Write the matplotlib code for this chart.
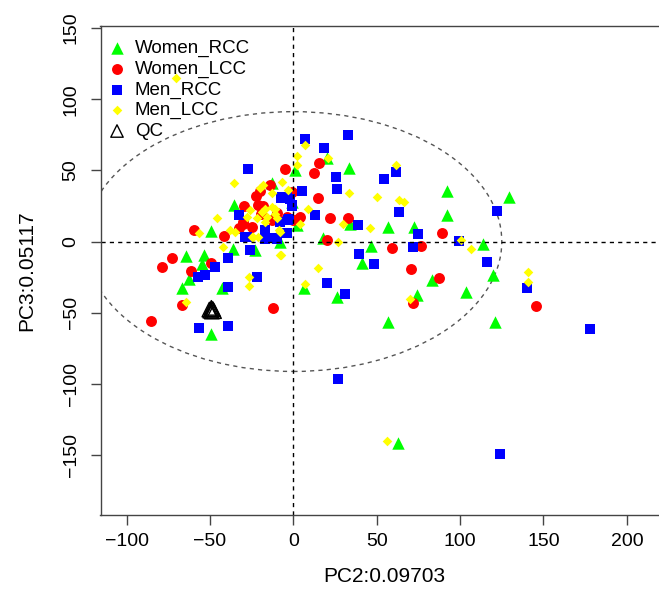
import matplotlib
matplotlib.use("Agg")
import matplotlib.pyplot as plt
from matplotlib.patches import Ellipse

plt.rcParams['font.family'] = ['Liberation Sans', 'DejaVu Sans']

# Women_RCC (green triangles)
wr_x = [1, 33.5, 92.3, 129.5, 92, 56.6, 72.5, 34, 18, 46.6, 113.5, 41, 83, 119.5, 74.3,
        103.5, 6.4, 26.3, 57, 121, 63, 20, -1, 2, -35.4, -49.4, -13, -12.4, -64.4, -53.6,
        -55, -62.8, -67, -43, -36, -23, -49.6, -8]
wr_y = [50, 51.8, 35.4, 31.4, 18.5, 10.3, 10.3, 12.2, 2.6, -3, -2, -15.4, -27.1, -23.6, -37.6,
        -35.8, -32.5, -38.8, -56.4, -56.4, -141.8, 59, 28, 11.5, 26, 7.3, 40.8, 17.8, -10, -9.6,
        -16.1, -26.4, -32.3, -32.3, -4.9, -6, -65, 0]

# Women_LCC (red circles)
wl_x = [-5, 15.5, 12.4, 15, -0.6, 4, 22, 32.6, 20, 59.3, 76.4, 89, 70.5, 87.5, 71.6, 145.3,
        -4, 0, 3, -14, -22.4, -18, -19.6, -13, -20, -21, -29.6, -30.4, -32.5, -30, -59.6,
        -41.6, -78.7, -73, -61.6, -49.6, -67, -12.4, -85.6, -10, -25]
wl_y = [50.8, 55.5, 48.5, 30.5, 34.9, 17.4, 16.2, 16.2, 1, -4.4, -3, 5.7, -19.6, -25.9, -43.5, -45.1,
        17.3, 15, 16, 39.6, 31.9, 24.9, 19.2, 15, 35.6, 25.6, 24.9, 12.2, 9.2, 13.8, 8,
        3.8, -18.2, -11.4, -20.6, -15.4, -44.7, -46.5, -55.7, 20, 10]

# Men_RCC (blue squares)
mr_x = [7.1, 33, 18.5, 25.6, 26, 54.4, 61.5, 5.2, -4, -0.8, 13.2, 38.8, 63.5, 74.6, 72, 99.3,
        122, 116.3, 39.2, 48.4, 20.2, 31, 140, -2.5, -5, 178, 27, 124, -27, -7.4, -2, -1, -7,
        -32.6, -28, -17, -11, -4, -8, -3, -17, -10, -29, -47, -57, -53, -39, -39, -26, -22,
        -56.4, -39.4]
mr_y = [71.8, 75, 65.4, 45.2, 36.6, 44.3, 49, 35.4, 31.4, 24.9, 18.8, 11.3, 21.1, 5, -3.7, 0.3,
        21.3, -14.7, -9.1, -15.9, -29, -36.7, -33, 15.5, 6.1, -61.7, -96.6, -149.3, 51.3, 30.3, 29.6, 25.6, 31.4,
        18.5, 3.3, 8, 2.2, 5.7, 13.8, 15, 2, 1.5, 2.9, -17.8, -24.8, -23.6, -31.8, -11.4, -6, -24.8,
        -61, -59.2]

# Men_LCC (yellow diamonds)
ml_x = [7, 2.3, 2, 21, 61.5, 33.4, 50, 63.5, 66.5, 9, -3, -7, 30, 46, 27, 100.5, 106.5, 14.6,
        7, 70, 141, 141, -8, 56, -70.4, -35.6, -45.6, -56.4, -27.6, -38, -35, -24.4, -21, -8.5,
        -18, -20, -17, -13, -11, -22, -17, -10, -13, -26, -19, -16, -11, -8, -25, -42, -7.4,
        -26.5, -26.6, -64.4, 4]
ml_y = [68.2, 60.2, 54.1, 58.8, 54.1, 33.8, 31, 29.1, 27.9, 23.2, 36.1, 42, 12, 9.6, -0.2, 1, -5.3, -18.9,
        -30.1, -40.4, -21.3, -28.3, -9.5, -140.2, 115.2, 41.2, 16.2, 5.7, 17.3, 8, 6.8, 3.3, 2.9, 8,
        40, 37.3, 23.2, 24, 19.7, 16.2, 13.8, 16.2, 33.8, 22, 20.9, 17.3, 23.2, 6.8, 3.3, -4.1, -9.6,
        -24.8, -31.3, -42.3, 12]

# QC (open black triangles, drawn on top of each other)
qc_x = [-48.7, -49.8, -47.6, -49.2, -50.4, -48.2, -48.9]
qc_y = [-47.5, -48.6, -48.9, -46.6, -47.8, -47.6, -49.2]

fig = plt.figure(figsize=(6.59, 5.89), dpi=100)
ax = fig.add_axes([100.5 / 659, 74 / 589, 568.5 / 659, 489 / 589])

ax.add_patch(Ellipse((0, 0), 250, 182.6, fill=False, edgecolor='#555555',
                     linestyle=(0, (3, 3)), lw=1.0))
ax.axhline(0, color='black', linestyle=(0, (3, 3)), lw=1.0)
ax.axvline(0, color='black', linestyle=(0, (3, 3)), lw=1.0)

ax.scatter(wr_x, wr_y, marker='^', s=80, color='#00FF00', linewidths=0, label='Women_RCC')
ax.scatter(wl_x, wl_y, marker='o', s=62, color='#FF0000', linewidths=0, label='Women_LCC')
ax.scatter(mr_x, mr_y, marker='s', s=62, color='#0000FF', linewidths=0, label='Men_RCC')
ax.scatter(ml_x, ml_y, marker='D', s=24, color='#FFFF00', linewidths=0, label='Men_LCC')
ax.scatter(qc_x, qc_y, marker='^', s=110, facecolors='none', edgecolors='black',
           linewidths=1.0, label='QC')

ax.set_xlim(-115.7, 225.3)
ax.set_ylim(-192.2, 151.5)
ax.set_xticks([-100, -50, 0, 50, 100, 150, 200])
ax.set_yticks([-150, -100, -50, 0, 50, 100, 150])
ax.tick_params(length=7, width=1, color='#444444', labelsize=14, pad=6)
ax.tick_params(axis='y', pad=8)
for lab in ax.get_yticklabels():
    lab.set_rotation(90)
    lab.set_va('center')
for sp in ax.spines.values():
    sp.set_color('#444444')
    sp.set_linewidth(1)

ax.set_xlabel('PC2:0.09703', fontsize=15, labelpad=12)
ax.set_ylabel('PC3:0.05117', fontsize=15, labelpad=19)

leg = ax.legend(loc='upper left', bbox_to_anchor=(0, 0.982), frameon=False,
                fontsize=13.5, handletextpad=0.36, labelspacing=0.18,
                borderaxespad=0, borderpad=0.28, handlelength=1.2, scatterpoints=1)
leg.legend_handles[4].set_sizes([80])

fig.savefig('out.png', dpi=100)
